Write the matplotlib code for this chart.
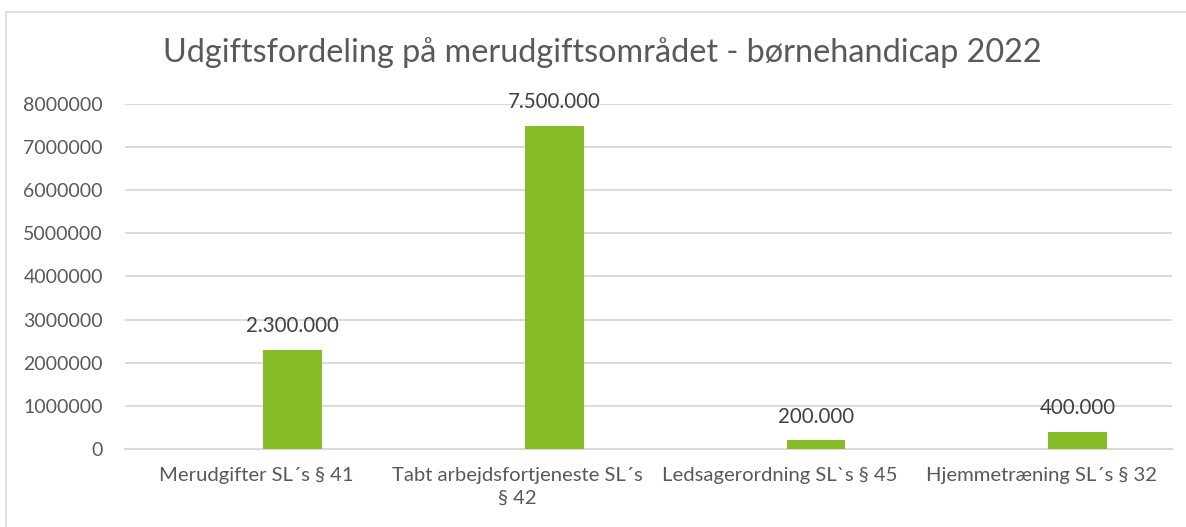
import matplotlib.pyplot as plt
from matplotlib.patches import Rectangle

plt.rcParams["font.family"] = ["Lato", "DejaVu Sans"]

title = "Udgiftsfordeling på merudgiftsområdet - børnehandicap 2022"
categories = ["Merudgifter SL´s § 41",
              "Tabt arbejdsfortjeneste SL´s\n§ 42",
              "Ledsagerordning SL`s § 45",
              "Hjemmetræning SL´s § 32"]
values = [2300000, 7500000, 200000, 400000]
value_labels = ["2.300.000", "7.500.000", "200.000", "400.000"]
yticks = [0, 1000000, 2000000, 3000000, 4000000, 5000000, 6000000, 7000000, 8000000]

bar_color = "#86bc25"
text_color = "#595959"
grid_color = "#d9d9d9"

fig = plt.figure(figsize=(11.86, 5.27), dpi=100)
ax = fig.add_axes([0.1054, 0.148, 0.8828, 0.6547])

# the visible series sits right of centre (empty first series in the original)
xpos = [i + 0.14 for i in range(len(values))]
ax.bar(xpos, values, width=0.225, color=bar_color, zorder=3)

for x, v, lab in zip(xpos, values, value_labels):
    ax.annotate(lab, (x, v), xytext=(0, 17), textcoords="offset points",
                ha="center", va="center", fontsize=14.8, color="#404040")

ax.set_xlim(-0.5, len(values) - 0.5)
ax.set_ylim(0, 8000000)
ax.set_yticks(yticks)
ax.set_yticklabels([str(t) for t in yticks])
ax.set_xticks(range(len(categories)))
ax.set_xticklabels(categories, linespacing=1.4)
ax.tick_params(axis="y", length=0, pad=16, labelsize=14, labelcolor=text_color)
ax.tick_params(axis="x", length=0, pad=13, labelsize=14.6, labelcolor=text_color)

ax.grid(axis="y", color=grid_color, linewidth=1.3, zorder=0)
for side in ["top", "right", "left"]:
    ax.spines[side].set_visible(False)
ax.spines["bottom"].set_color(grid_color)
ax.spines["bottom"].set_linewidth(1.5)

fig.text(0.508, 0.90, title, ha="center", va="center", fontsize=23.3, color=text_color)

# chart frame (only top and left edges fall inside the picture)
fig.patches.append(Rectangle((6 / 1186, -0.1), 1.2, 1.1 - 12 / 527, transform=fig.transFigure,
                             fill=False, edgecolor=grid_color, linewidth=1.2))

fig.savefig("out.png", dpi=100)
